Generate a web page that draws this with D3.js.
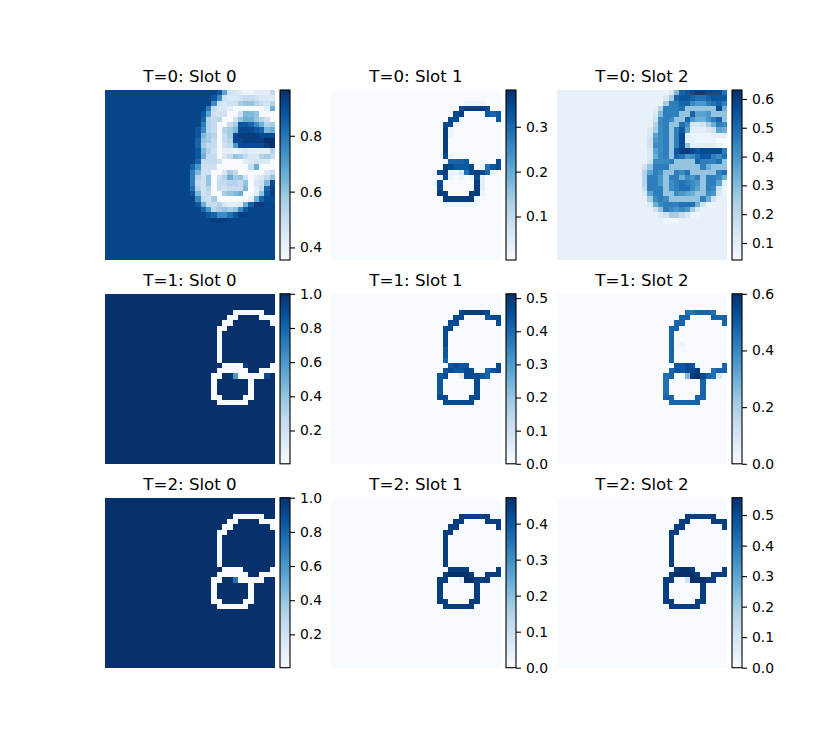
<!DOCTYPE html>
<html>
<head>
<meta charset="utf-8">
<script src="https://d3js.org/d3.v7.min.js"></script>
<style>
  body { margin: 0; background: #fff; }
  text { font-family: "DejaVu Sans", sans-serif; fill: #000; }
</style>
</head>
<body>
<div id="chart"></div>
<script>
var svgWidth = 825;
var svgHeight = 750;

var gridSize = 32;
var timeSteps = [0, 1, 2];
var slots = [0, 1, 2];

// colour limits, [T][slot]
var limitsT0 = [[0.355, 0.964], [0.003, 0.382], [0.041, 0.631]];
var limitsT1 = [[0.005, 1.0], [0, 0.513], [0, 0.6]];
var limitsT2 = [[0.005, 1.0], [0, 0.472], [0, 0.557]];

var ticksT0 = [[0.4, 0.6, 0.8], [0.1, 0.2, 0.3], [0.1, 0.2, 0.3, 0.4, 0.5, 0.6]];
var ticksT1 = [[0.2, 0.4, 0.6, 0.8, 1.0], [0, 0.1, 0.2, 0.3, 0.4, 0.5], [0, 0.2, 0.4, 0.6]];
var ticksT2 = [[0.2, 0.4, 0.6, 0.8, 1.0], [0, 0.1, 0.2, 0.3, 0.4], [0, 0.1, 0.2, 0.3, 0.4, 0.5]];

// Each mask is 32 rows. Every character is a base-36 level in twentieths of
// the panel's colour range (m and n are the in between levels below).
// Rows are right aligned and the rest is background.
var halfLevels = { m: 18.5, n: 1.5 };
var backgrounds = [["m", "0", "n"], ["k", "0", "0"], ["k", "0", "0"]];

var maskT0S0 = [
  "mmmmmmhb432112225", "mmmmmhd4334554333", "mmmmmd43447886546", "mmmme53320000002a",
  "mmmhb444004998000", "mmmg6560048aa8640", "mmme650057hhgda67", "mmhd650679iiihg9a",
  "mmh976057ijjjjiii", "mmg875056iijjjjkk", "mmg755045ciiiiijk", "mmh96402212322226",
  "mmha5503587533675", "mmg55540000234330", "mgc4440000005a000", "me944003750000035",
  "me648046a78402358", "me54805566580349i", "mf6460545559025gj", "mh94500789a0028hj",
  "mmd5470000002agii", "mmha5563223agjjmm", "mmmgc67878dhmmmmm", "mmmmhgddfhjjmmmmm",
  "mmmmmjjjmmmmmmmmm"
];
var maskT0S1 = [
  "", "", "000001111000", "0000ijjjji00",
  "000ij0000hgh", "00ii1000000h", "0ii100000000", "0j1000000000",
  "0j1000000000", "0j0000000000", "0j0000000000", "0j0000000000",
  "0i1000000000", "01gggh00000i", "0jihhhi01fhi", "1ij113fijig10",
  "1i10101i2000", "1i000000j2000", "i000000j2000", "jj0000jj1000",
  "0jjjjjj10000", "011111100000"
];
var maskT0S2 = [
  "nnnnnn39ghijjiiif", "nnnnn37ghhgffghhh", "nnnnn7eeggdccefge", "nnn26eeef888888ia",
  "nnn39eee88gbbc888", "nnn4ded88gcaaceg8", "nnn6de88fd3347aed", "nn37de8ehb22234ba",
  "nn3bde8ei21111222", "nn4cde8ei22111100", "nn4dde8ei82222210", "nn3bde8hjjihiiiie",
  "nn3ade8gfcdfhhedf", "nn4ddde8888geeef8", "n48eee888888ea888", "n6bed88edf88888ef",
  "n6eec8eeadce8eeda", "n6eec8defedc8eeb2", "n5eee8deffdb8ed41", "n3bee88dcba88dc31",
  "nn7ded888888ea4nn", "nn3adeeefffa411nn", "nnn48edcdc73nnnnn", "nnnn34775311nnnnn",
  "nnnnn111nnnnnnnnn"
];

var maskT1S0 = [
  "", "", "", "kkkk000000kk",
  "kkk00kkkk000", "kk00kkkkkkk0", "k00kkkkkkkkk", "k0kkkkkkkkkk",
  "k0kkkkkkkkkk", "k0kkkkkkkkkk", "k0kkkkkkkkkk", "k0kkkkkkkkkk",
  "k0kkkkkkkkkk", "kk0000jkkkk0", "k000000kk000", "00kkc00000ik",
  "0kkkkkk0kkkk", "0kkkkkk0kkkk", "0kkkkkk0kkkk", "00kkkk00kkkk",
  "k000000kkkkk"
];
var maskT1S1 = [
  "", "", "", "0000ijjjji00",
  "000ii0000hii", "00ii0000000i", "0ii000000000", "0i0000000000",
  "0i0000000000", "0i0000000000", "0h0000000000", "0h0000000000",
  "0g0000000000", "00hihh00000i", "0hihhii00ghi", "hi002iiihg00",
  "h000000i0000", "h000000i0000", "h000000i0000", "ii0000ii0000",
  "0iiiiii00000"
];
var maskT1S2 = [
  "", "", "", "0000ffgggf00",
  "000gg0000ggg", "00gg0000000g", "0gg000000000", "0g0000000000",
  "0g0000000000", "0g0100000000", "0g0000000000", "0g0000000000",
  "0g0000000000", "00hhih10000g", "0ghhiij00fgg", "fg009jkigf30",
  "f000000g1000", "f000000g0000", "f000000g0000", "gg0000gg0000",
  "0gggggg00000"
];

var maskT2S0 = [
  "", "", "", "kkkk000000kk",
  "kkk00kkkk000", "kk00kkkkkkk0", "k00kkkkkkkkk", "k0kkkkkkkkkk",
  "k0kkkkkkkkkk", "k0kkkkkkkkkk", "k0kkkkkkkkkk", "k0kkkkkkkkkk",
  "k0kkkkkkkkkk", "kk0000kkkkk0", "k000000kk000", "00kkf00000kk",
  "0kkkkkk0kkkk", "0kkkkkk0kkkk", "0kkkkkk0kkkk", "00kkkk00kkkk",
  "k000000kkkkk"
];
var maskT2S1 = [
  "", "", "", "0000jjjjjj00",
  "000jj0000jjj", "00jj0000000j", "0jj000000000", "0j0000000000",
  "0j0000000000", "0j0000000000", "0j0000000000", "0j0000000000",
  "0j0000000000", "00jjjj00000j", "0jkkkkj00jjj", "jj002kkjjj00",
  "j000000j0000", "j000000j0000", "j000000j0000", "jj0000jj0000",
  "0jjjjjj00000"
];
var maskT2S2 = [
  "", "", "", "0000jjjjjj00",
  "000jj0000jjj", "00jj0000000j", "0jj000000000", "0j0000000000",
  "0j0000000000", "0j0000000000", "0j0000000000", "0j0000000000",
  "0j0000000000", "00jkkj00000j", "0jkkkkj00jjj", "jj004kkkjj00",
  "j000000j0000", "j000000j0000", "j000000j0000", "jj0000jj0000",
  "0jjjjjj00000"
];

var masks = [
  [maskT0S0, maskT0S1, maskT0S2],
  [maskT1S0, maskT1S1, maskT1S2],
  [maskT2S0, maskT2S1, maskT2S2]
];
var limits = [limitsT0, limitsT1, limitsT2];
var ticks = [ticksT0, ticksT1, ticksT2];

// layout
var imageLefts = [105, 331, 557];
var imageTops = [90, 293.8, 497.7];
var imageSize = 170;
var barGap = 5;
var barWidth = 10;

var svg = d3.select("#chart")
  .append("svg")
  .attr("width", svgWidth)
  .attr("height", svgHeight);

// matplotlib's Blues is the 9 class brewer ramp, piecewise linear
var blues = d3.piecewise(d3.interpolateRgb, d3.schemeBlues[9]);

var defs = svg.append("defs");
var gradient = defs.append("linearGradient")
  .attr("id", "bluesRamp")
  .attr("x1", 0).attr("x2", 0)
  .attr("y1", 1).attr("y2", 0);
gradient.selectAll("stop")
  .data(d3.schemeBlues[9])
  .enter()
  .append("stop")
  .attr("offset", (d, i) => i / 8)
  .attr("stop-color", d => d);

function readLevel(ch) {
  var twentieths = ch in halfLevels ? halfLevels[ch] : parseInt(ch, 36);
  return twentieths / 20;
}

function maskToValues(mask, background, limit) {
  var values = [];
  d3.range(gridSize).forEach(function(row) {
    var line = (mask[row] || "").padStart(gridSize, background);
    d3.range(gridSize).forEach(function(col) {
      values.push({
        row: row,
        col: col,
        value: limit[0] + (limit[1] - limit[0]) * readLevel(line[col])
      });
    });
  });
  return values;
}

timeSteps.forEach(function(t) {
  slots.forEach(function(s) {
    var limit = limits[t][s];
    var panel = svg.append("g")
      .attr("transform", `translate(${imageLefts[s]}, ${imageTops[t]})`);

    var x = d3.scaleBand().domain(d3.range(gridSize)).range([0, imageSize]);
    var y = d3.scaleBand().domain(d3.range(gridSize)).range([0, imageSize]);
    var color = d3.scaleSequential(blues).domain(limit);

    panel.selectAll("rect.cell")
      .data(maskToValues(masks[t][s], backgrounds[t][s], limit))
      .enter()
      .append("rect")
      .attr("class", "cell")
      .attr("x", d => x(d.col))
      .attr("y", d => y(d.row))
      .attr("width", x.bandwidth())
      .attr("height", y.bandwidth())
      .attr("fill", d => color(d.value))
      .attr("shape-rendering", "crispEdges");

    panel.append("text")
      .attr("x", imageSize / 2)
      .attr("y", -8)
      .attr("text-anchor", "middle")
      .style("font-size", "16.67px")
      .text(`T=${t}: Slot ${s}`);

    // colorbar
    var bar = panel.append("g")
      .attr("transform", `translate(${imageSize + barGap}, 0)`);
    var barScale = d3.scaleLinear().domain(limit).range([imageSize, 0]);

    bar.append("rect")
      .attr("width", barWidth)
      .attr("height", imageSize)
      .attr("fill", "url(#bluesRamp)")
      .attr("stroke", "#000")
      .attr("stroke-width", 1.1);

    var barAxis = d3.axisRight(barScale)
      .tickValues(ticks[t][s])
      .tickSize(5)
      .tickPadding(5)
      .tickFormat(d3.format(".1f"));

    var axisGroup = bar.append("g")
      .attr("transform", `translate(${barWidth}, 0)`)
      .call(barAxis);
    axisGroup.select(".domain").remove();
    axisGroup.selectAll("line").attr("stroke", "#000").attr("stroke-width", 1.1);
    axisGroup.selectAll("text").style("font-size", "13.9px");
  });
});
</script>
</body>
</html>
